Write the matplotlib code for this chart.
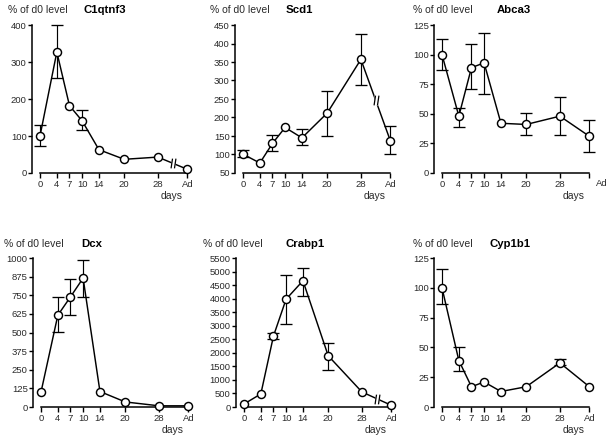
import numpy as np
import matplotlib.pyplot as plt
from matplotlib.path import Path

plt.rcParams['font.family'] = ['Liberation Sans', 'DejaVu Sans']

nan = np.nan
days = [0, 4, 7, 10, 14, 20, 28, 35]
day_labels = ['0', '4', '7', '10', '14', '20', '28', 'Ad']

genes = ['C1qtnf3', 'Scd1', 'Abca3', 'Dcx', 'Crabp1', 'Cyp1b1']

c1qtnf3 = [100, 327, 182, 141, 63, 37, 43, 10]
c1qtnf3_hi = [131, 400, nan, 169, nan, nan, nan, nan]
c1qtnf3_lo = [74, 256, nan, 115, nan, nan, nan, nan]

scd1 = [101, 77, 130, 173, 145, 212, 357, 137]
scd1_hi = [111, nan, 153, nan, 168, 271, 427, 177]
scd1_lo = [93, nan, 110, nan, 126, 150, 288, 100]

abca3 = [100, 48, 89, 93, 42, 41, 48, 31]
abca3_hi = [113, 55, 109, 118, nan, 51, 64, 45]
abca3_lo = [87, 39, 71, 67, nan, 32, 32, 18]

dcx = [100, 616, 739, 865, 104, 34, 8, 8]
dcx_hi = [nan, 735, 858, 989, nan, nan, nan, nan]
dcx_lo = [nan, 506, 620, 737, nan, nan, nan, nan]

crabp1 = [110, 482, 2620, 3980, 4660, 1891, 556, 62]
crabp1_hi = [nan, nan, 2744, 4882, 5130, 2373, nan, nan]
crabp1_lo = [nan, nan, 2521, 3078, 4104, 1384, nan, nan]

cyp1b1 = [100, 39, 17, 21, 13, 17, 37, 17]
cyp1b1_hi = [116, 50, nan, nan, nan, nan, 40, nan]
cyp1b1_lo = [86, 30, nan, nan, nan, nan, 35, nan]

values = [c1qtnf3, scd1, abca3, dcx, crabp1, cyp1b1]
highs = [c1qtnf3_hi, scd1_hi, abca3_hi, dcx_hi, crabp1_hi, cyp1b1_hi]
lows = [c1qtnf3_lo, scd1_lo, abca3_lo, dcx_lo, crabp1_lo, cyp1b1_lo]

y_min = [0, 50, 0, 0, 0, 0]
y_max = [400, 450, 125, 1000, 5500, 125]
y_step = [100, 50, 25, 125, 500, 25]
has_break = [True, True, False, False, True, False]

# layout in pixels (figure 614 x 440)
W, H = 614, 440
ax_left = [32, 235, 434, 33, 236, 434]
ax_top = [25, 25, 25, 258, 258, 258]
ax_bot = [173, 173, 173, 407, 407, 407]
ax_w = 160
ylab_x = [8, 210, 413, 4, 203, 413]
title_x = [83, 286, 497, 81, 286, 490]
head_y = [10, 10, 10, 244, 244, 244]

txt = '#2a2a2a'
lw = 1.05

# break mark markers
slash = Path([(-0.5, -1), (-0.2, 1), (0.2, -1), (0.5, 1)],
             [Path.MOVETO, Path.LINETO, Path.MOVETO, Path.LINETO])
gap = Path([(-0.35, -1), (0.35, -1), (0.35, 1), (-0.35, 1), (-0.35, -1)],
           [Path.MOVETO, Path.LINETO, Path.LINETO, Path.LINETO, Path.CLOSEPOLY])

fig = plt.figure(figsize=(W / 100, H / 100), dpi=100)

for i, gene in enumerate(genes):
    ax = fig.add_axes([ax_left[i] / W, 1 - ax_bot[i] / H, ax_w / W,
                       (ax_bot[i] - ax_top[i]) / H])
    v = np.array(values[i], dtype=float)
    hi = np.array(highs[i], dtype=float)
    lo = np.array(lows[i], dtype=float)

    ax.errorbar(days, v, yerr=[v - lo, hi - v], fmt='none', ecolor='black',
                elinewidth=0.85, capsize=4, capthick=0.95, zorder=2,
                clip_on=False)
    ax.plot(days, v, '-o', color='black', lw=lw, ms=5.8, mfc='white',
            mec='black', mew=1.05, zorder=3, clip_on=False)

    if has_break[i]:
        bx = (days[-2] + days[-1]) / 2
        by = (v[-2] + v[-1]) / 2
        ax.plot([bx], [by], marker=gap, ms=7, mfc='white', mec='none',
                ls='none', zorder=4, clip_on=False)
        ax.plot([bx], [by], marker=slash, ms=7, mfc='none', mec='black',
                mew=0.9, ls='none', zorder=4.1, clip_on=False)

    ax.set_xlim(-1.9, 36.1)
    ax.set_ylim(y_min[i], y_max[i])
    ax.set_yticks(np.arange(y_min[i], y_max[i] + 1, y_step[i]))
    ax.set_xticks(days)
    if gene == 'Abca3':
        ax.set_xticklabels(day_labels[:-1] + [''])
        ax.annotate('Ad', xy=(38, 0), xycoords=('data', 'axes fraction'),
                    xytext=(0, -7.8), textcoords='offset points',
                    ha='center', va='center', fontsize=6.8, color=txt)
    else:
        ax.set_xticklabels(day_labels)

    for s in ['top', 'right']:
        ax.spines[s].set_visible(False)
    ax.spines['left'].set_linewidth(1.1)
    ax.spines['bottom'].set_linewidth(1.1)
    ax.spines['bottom'].set_bounds(days[0], days[-1])
    ax.tick_params(axis='y', length=3, width=1.0, pad=0.8, labelsize=6.8,
                   labelcolor=txt)
    ax.tick_params(axis='x', length=3.6, width=1.0, pad=1.2, labelsize=6.8,
                   labelcolor=txt)
    ax.patch.set_visible(False)

    ax.annotate('days', xy=(31.3, 0), xycoords=('data', 'axes fraction'),
                xytext=(0, -16.5), textcoords='offset points',
                ha='center', va='center', fontsize=7.5, color=txt)

    fig.text(ylab_x[i] / W, 1 - head_y[i] / H, '% of d0 level', fontsize=7.5,
             color=txt, ha='left', va='center')
    fig.text(title_x[i] / W, 1 - head_y[i] / H, gene, fontsize=8.2,
             fontweight='bold', color='black', ha='left', va='center')

fig.savefig('out.png', dpi=100)
